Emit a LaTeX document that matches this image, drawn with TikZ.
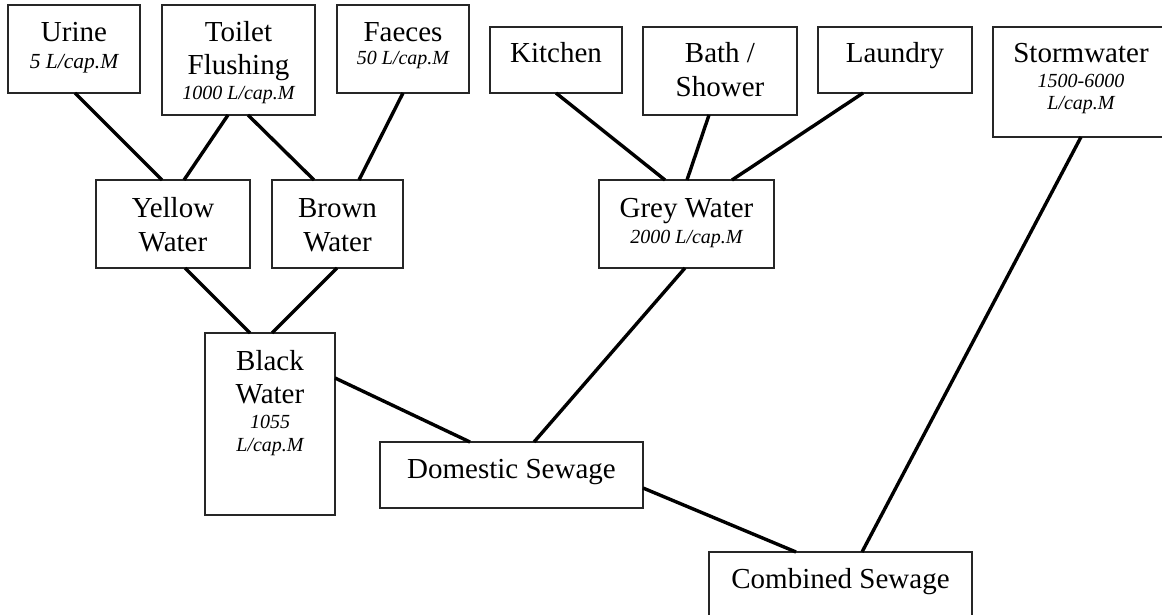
\documentclass[tikz,border=0pt]{standalone}
\usepackage{fontspec}
\setmainfont{Liberation Serif}
\usetikzlibrary{calc}
\begin{document}
\begin{tikzpicture}[x=1pt,y=-1pt,
  box/.style={draw=black!85, line width=1.5pt, rectangle, inner sep=0pt, outer sep=0pt},
  lbl/.style={inner sep=0pt, anchor=base, font=\fontsize{29}{33}\selectfont},
  sub/.style={inner sep=0pt, anchor=base, font=\fontsize{20}{24}\selectfont\itshape},
  flow/.style={draw=black, line width=3.4pt}]
\clip (0,0) rectangle (1162,615);

% sources
\node[box, minimum width=132pt, minimum height=88pt]  (urine)   at (74,49) {};
\node[box, minimum width=153pt, minimum height=110pt] (toilet)  at (238.5,60) {};
\node[box, minimum width=132pt, minimum height=88pt]  (faeces)  at (403,49) {};
\node[box, minimum width=132pt, minimum height=66pt]  (kitchen) at (556,60) {};
\node[box, minimum width=154pt, minimum height=88pt]  (bath)    at (720,71) {};
\node[box, minimum width=154pt, minimum height=66pt]  (laundry) at (895,60) {};
\node[box, minimum width=176pt, minimum height=110pt] (storm)   at (1081,82) {};

% intermediate streams
\node[box, minimum width=154pt, minimum height=88pt]  (yellow)  at (173,224) {};
\node[box, minimum width=131pt, minimum height=88pt]  (brown)   at (337.5,224) {};
\node[box, minimum width=175pt, minimum height=88pt]  (grey)    at (686.5,224) {};
\node[box, minimum width=130pt, minimum height=182pt] (black)   at (270,424) {};
\node[box, minimum width=263pt, minimum height=66pt]  (domestic) at (511.5,475) {};
\node[box, minimum width=263pt, minimum height=66pt]  (combined) at (840.5,585) {};

% labels
\node[lbl] (urine-a)  at (74,42) {Urine};
\node[sub, font=\fontsize{21.5}{24}\selectfont\itshape] (urine-b) at (74,69) {5 L/cap.M};
\node[lbl] (toilet-a) at (238.5,42) {Toilet};
\node[lbl] (toilet-b) at (238.5,75) {Flushing};
\node[sub] (toilet-c) at (238.5,100) {1000 L/cap.M};
\node[lbl] (faeces-a) at (403,42) {Faeces};
\node[sub] (faeces-b) at (403,65) {50 L/cap.M};
\node[lbl] (kitchen-a) at (556,63) {Kitchen};
\node[lbl] (bath-a)   at (720,63) {Bath /};
\node[lbl] (bath-b)   at (720,97) {Shower};
\node[lbl] (laundry-a) at (895,63) {Laundry};
\node[lbl] (storm-a)  at (1081,63) {Stormwater};
\node[sub] (storm-b)  at (1081,88) {1500-6000};
\node[sub] (storm-c)  at (1081,110) {L/cap.M};
\node[lbl] (yellow-a) at (173,217) {Yellow};
\node[lbl] (yellow-b) at (173,251) {Water};
\node[lbl] (brown-a)  at (337.5,217) {Brown};
\node[lbl] (brown-b)  at (337.5,251) {Water};
\node[lbl] (grey-a)   at (686.5,217) {Grey Water};
\node[sub] (grey-b)   at (686.5,243) {2000 L/cap.M};
\node[lbl] (black-a)  at (270,370) {Black};
\node[lbl] (black-b)  at (270,403) {Water};
\node[sub] (black-c)  at (270,428) {1055};
\node[sub] (black-d)  at (270,451) {L/cap.M};
\node[lbl] (domestic-a) at (511.5,478) {Domestic Sewage};
\node[lbl] (combined-a) at (840.5,588) {Combined Sewage};

% flows
\draw[flow] ($(urine.south west)+(67,0)$)   -- ($(yellow.north west)+(66,0)$);
\draw[flow] ($(toilet.south west)+(66,0)$)  -- ($(yellow.north west)+(88,0)$);
\draw[flow] ($(toilet.south west)+(86,0)$)  -- ($(brown.north west)+(42,0)$);
\draw[flow] ($(faeces.south west)+(66,0)$)  -- ($(brown.north west)+(87,0)$);
\draw[flow] ($(kitchen.south west)+(66,0)$) -- ($(grey.north west)+(66,0)$);
\draw[flow] ($(bath.south west)+(66,0)$)    -- ($(grey.north west)+(88,0)$);
\draw[flow] ($(laundry.south west)+(45,0)$) -- ($(grey.north west)+(133,0)$);
\draw[flow] ($(yellow.south west)+(89,0)$)  -- ($(black.north west)+(45,0)$);
\draw[flow] ($(brown.south west)+(65,0)$)   -- ($(black.north west)+(67,0)$);
\draw[flow] ($(black.north east)+(0,45)$)   -- ($(domestic.north west)+(90,0)$);
\draw[flow] ($(grey.south west)+(86,0)$)    -- ($(domestic.north west)+(154,0)$);
\draw[flow] ($(domestic.north east)+(0,46)$) -- ($(combined.north west)+(87,0)$);
\draw[flow] ($(storm.south west)+(88,0)$)   -- ($(combined.north west)+(153,0)$);
\end{tikzpicture}
\end{document}
